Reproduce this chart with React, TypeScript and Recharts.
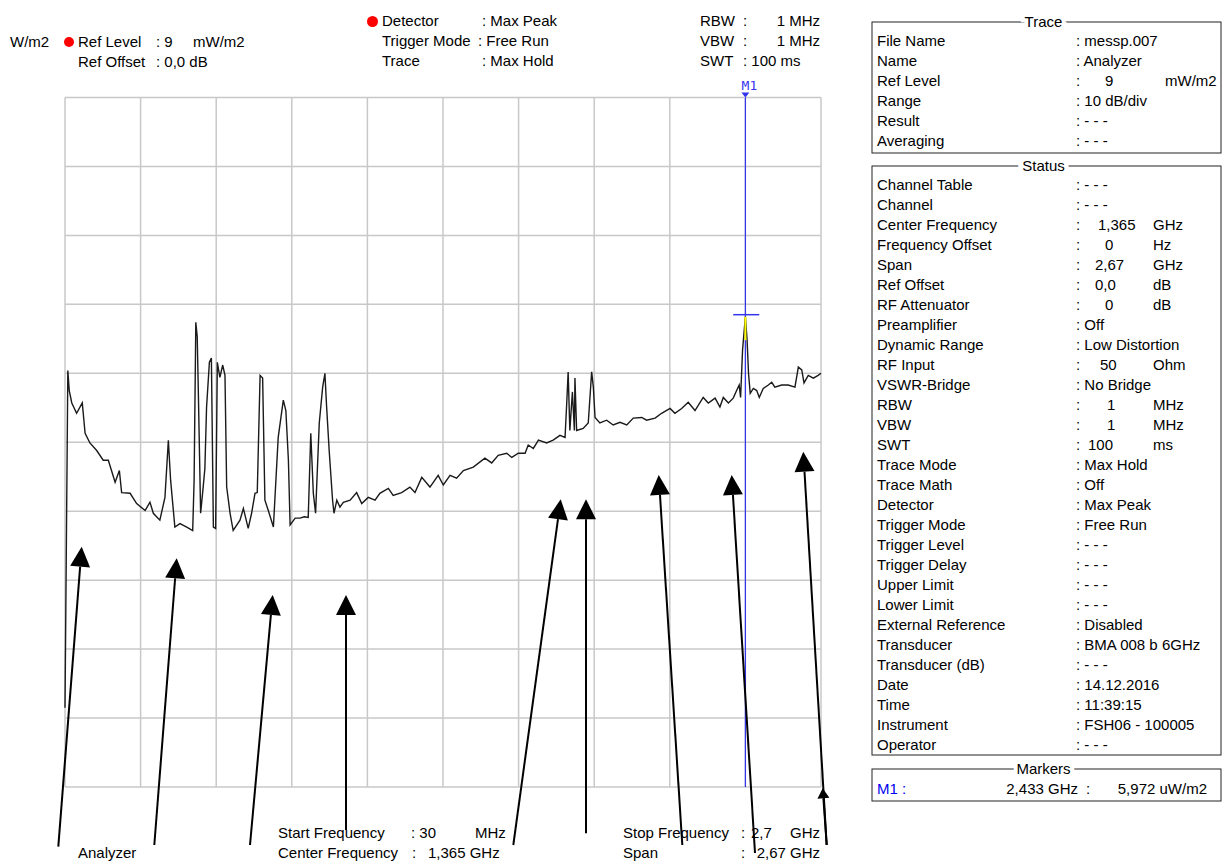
import React from 'react';
import { LineChart, Line, XAxis, YAxis, CartesianGrid, ReferenceLine } from 'recharts';

// trace: frequency in MHz, level in dB below ref level (9 mW/m2, 10 dB/div)
const freqMHz = [
  30, 40, 45, 54, 71, 91, 101, 118, 142, 165,
  183, 207, 222, 230, 260, 283, 313, 330, 342, 365,
  383, 395, 403, 418, 436, 460, 481, 486, 492, 497,
  501, 509, 518, 524, 530, 540, 547, 554, 562, 568,
  577, 587, 595, 601, 613, 624, 648, 660, 677, 689,
  701, 709, 719, 728, 736, 748, 766, 783, 801, 810,
  819, 825, 843, 860, 875, 889, 898, 907, 915, 928,
  940, 948, 954, 963, 975, 980, 990, 1001, 1013, 1037,
  1060, 1078, 1101, 1125, 1142, 1172, 1189, 1219, 1248, 1266,
  1290, 1319, 1348, 1366, 1390, 1413, 1437, 1472, 1513, 1537,
  1560, 1590, 1608, 1631, 1655, 1666, 1684, 1702, 1731, 1754,
  1778, 1796, 1802, 1807, 1813, 1822, 1829, 1831, 1837, 1860,
  1878, 1890, 1896, 1902, 1919, 1943, 1966, 1990, 2014, 2037,
  2067, 2084, 2114, 2137, 2167, 2184, 2208, 2231, 2255, 2284,
  2302, 2326, 2343, 2355, 2373, 2390, 2402, 2411, 2416, 2423,
  2429, 2433, 2439, 2444, 2450, 2461, 2473, 2482, 2496, 2514,
  2526, 2537, 2561, 2584, 2608, 2620, 2632, 2640, 2655, 2673,
  2690, 2700,
];

const levelDb = [
  -88.5, -39.6, -42.5, -44.3, -45.8, -44.3, -48.7, -50.1, -51.2, -52.6,
  -52.6, -55.8, -54.1, -57.3, -57.4, -58.9, -59.9, -58.7, -60.3, -61.3,
  -58.0, -49.7, -55.5, -62.3, -61.8, -62.3, -62.8, -55.5, -32.6, -34.7,
  -42.9, -60.3, -56.5, -53.8, -44.9, -38.4, -37.8, -62.3, -62.5, -38.4,
  -40.6, -38.8, -40.3, -56.5, -60.3, -62.8, -61.3, -59.6, -62.5, -60.3,
  -57.4, -57.3, -40.3, -40.7, -58.4, -59.9, -62.3, -49.3, -43.9, -45.4,
  -52.6, -62.0, -61.0, -61.0, -60.8, -60.9, -48.7, -57.4, -60.3, -47.2,
  -42.0, -40.0, -44.9, -51.2, -58.4, -60.3, -58.4, -59.4, -58.7, -58.4,
  -57.3, -58.9, -58.0, -58.4, -57.4, -56.7, -57.7, -57.3, -56.5, -57.3,
  -55.1, -56.5, -54.8, -56.2, -54.8, -55.2, -54.1, -53.6, -52.3, -53.0,
  -51.9, -51.6, -52.2, -51.6, -51.6, -50.4, -50.9, -49.7, -50.1, -49.7,
  -49.0, -49.3, -44.3, -39.8, -48.3, -42.7, -48.3, -40.7, -48.3, -48.0,
  -47.2, -39.8, -42.0, -46.4, -47.2, -46.8, -47.5, -47.1, -47.5, -46.5,
  -46.4, -46.8, -46.5, -45.8, -45.1, -45.8, -45.1, -44.2, -45.4, -43.5,
  -44.3, -43.6, -44.9, -43.5, -44.3, -43.6, -42.5, -41.7, -43.5, -36.6,
  -33.7, -31.8, -35.2, -40.0, -42.9, -42.2, -42.5, -43.5, -42.2, -41.7,
  -41.3, -42.0, -41.7, -41.7, -42.0, -39.1, -39.5, -41.4, -40.3, -40.7,
  -40.3, -40.0,
];

const freqTicks = [30, 297, 564, 831, 1098, 1365, 1632, 1899, 2166, 2433, 2700];
const levelTicks = [-100, -90, -80, -70, -60, -50, -40, -30, -20, -10, 0];

const markerFreq = 2433;
const markerLevel = -31.8;

const traceLabels = ['File Name', 'Name', 'Ref Level', 'Range', 'Result', 'Averaging'];
const traceValues = ['messp.007', 'Analyzer', '9|mW/m2', '10 dB/div', '- - -', '- - -'];

const statusLabels = [
  'Channel Table', 'Channel', 'Center Frequency', 'Frequency Offset', 'Span', 'Ref Offset',
  'RF Attenuator', 'Preamplifier', 'Dynamic Range', 'RF Input', 'VSWR-Bridge', 'RBW', 'VBW',
  'SWT', 'Trace Mode', 'Trace Math', 'Detector', 'Trigger Mode', 'Trigger Level',
  'Trigger Delay', 'Upper Limit', 'Lower Limit', 'External Reference', 'Transducer',
  'Transducer (dB)', 'Date', 'Time', 'Instrument', 'Operator',
];
const statusValues = [
  '- - -', '- - -', '1,365|GHz', '0|Hz', '2,67|GHz', '0,0|dB',
  '0|dB', 'Off', 'Low Distortion', '50|Ohm', 'No Bridge', '1|MHz', '1|MHz',
  '100|ms', 'Max Hold', 'Off', 'Max Peak', 'Free Run', '- - -',
  '- - -', '- - -', '- - -', 'Disabled', 'BMA 008 b 6GHz',
  '- - -', '14.12.2016', '11:39:15', 'FSH06 - 100005', '- - -',
];

const traceData = freqMHz.map((f, i) => ({ f, level: levelDb[i] }));

const FONT = '"Liberation Sans", Arial, Helvetica, sans-serif';
const BLUE = '#3434ee';

// where the number part of a "num|unit" value starts
const numX: Record<string, number> = {
  '1,365': 1098, '0': 1105, '2,67': 1095, '0,0': 1095, '50': 1100, '1': 1107, '100': 1088, '9': 1105,
};

function T({ x, y, children, anchor, fill }: any) {
  return (
    <text
      x={x}
      y={y + 5}
      fontSize={15}
      fontFamily={FONT}
      fill={fill || '#000'}
      textAnchor={anchor || 'start'}
      style={{ whiteSpace: 'pre' }}
    >
      {children}
    </text>
  );
}

function Box({ x, y, w, h, title }: any) {
  return (
    <g>
      <rect x={x} y={y} width={w} height={h} fill="none" stroke="#222" strokeWidth={1} />
      <text
        x={x + w / 2 - 3}
        y={y + 5}
        fontSize={15}
        fontFamily={FONT}
        textAnchor="middle"
        stroke="#fff"
        strokeWidth={8}
        paintOrder="stroke"
        fill="#000"
      >
        {title}
      </text>
    </g>
  );
}

function InfoRows({ labels, values, y0 }: any) {
  return (
    <g>
      {labels.map((label: string, i: number) => {
        const y = y0 + i * 20;
        const v: string = values[i];
        if (v.includes('|')) {
          const [num, unit] = v.split('|');
          return (
            <g key={label}>
              <T x={877} y={y}>{label}</T>
              <T x={1076} y={y}>:</T>
              <T x={numX[num]} y={y}>{num}</T>
              <T x={label === 'Ref Level' ? 1165 : 1153} y={y}>{unit}</T>
            </g>
          );
        }
        return (
          <g key={label}>
            <T x={877} y={y}>{label}</T>
            <T x={1076} y={y}>{': ' + v}</T>
          </g>
        );
      })}
    </g>
  );
}

// annotation arrows: [tailX, tailY, tipX, tipY, headWidth, headLength]
const arrows = [
  [58.3, 846.7, 81.7, 546.7, 20, 20],
  [154.3, 845, 176.7, 558.3, 20, 20],
  [250, 845, 272.7, 595, 20, 20],
  [346, 830, 346, 595, 20, 20],
  [513.3, 845, 560.7, 499.3, 20, 20],
  [586, 833.3, 586, 499.3, 20, 20],
  [682.3, 845, 658.7, 475, 20, 20],
  [755, 853, 731.7, 475, 20, 20],
  [826.7, 845, 803.3, 451.7, 20, 20],
  [826.7, 845, 822.7, 788.3, 12, 10],
];

function Arrow({ a }: any) {
  const [x1, y1, x2, y2, hw, hl] = a;
  const len = Math.hypot(x2 - x1, y2 - y1);
  const ux = (x2 - x1) / len;
  const uy = (y2 - y1) / len;
  const bx = x2 - ux * hl;
  const by = y2 - uy * hl;
  const px = -uy * (hw / 2);
  const py = ux * (hw / 2);
  return (
    <g>
      <line x1={x1} y1={y1} x2={bx} y2={by} stroke="#000" strokeWidth={2} />
      <polygon points={`${x2},${y2} ${bx + px},${by + py} ${bx - px},${by - py}`} fill="#000" />
    </g>
  );
}

const MarkerLabel = (props: any) => {
  const { viewBox } = props;
  if (!viewBox) return null;
  const x = viewBox.x;
  const y = viewBox.y;
  return (
    <g>
      <text x={x + 4} y={y - 8} fontSize={13} fontFamily='"DejaVu Sans Mono", monospace' fill={BLUE} textAnchor="middle">
        M1
      </text>
      <polygon points={`${x - 4},${y - 5} ${x + 4},${y - 5} ${x},${y}`} fill={BLUE} />
    </g>
  );
};

export default function App() {
  return (
    <div style={{ position: 'absolute', left: 0, top: 0, width: 1223, height: 862, background: '#fff' }}>
      <div style={{ position: 'absolute', left: 0, top: 0 }}>
        <LineChart
          width={830}
          height={800}
          data={traceData}
          margin={{ top: 97.5, right: 9, bottom: 13, left: 65 }}
        >
          <CartesianGrid stroke="#c8c8c8" strokeWidth={1.5} />
          <XAxis type="number" dataKey="f" domain={[30, 2700]} ticks={freqTicks} hide />
          <YAxis type="number" domain={[-100, 0]} ticks={levelTicks} hide />
          <ReferenceLine x={markerFreq} stroke={BLUE} strokeWidth={1.2} label={<MarkerLabel />} />
          <Line
            dataKey="level"
            type="linear"
            stroke="#1a1a1a"
            strokeWidth={1.4}
            dot={false}
            isAnimationActive={false}
          />
          <ReferenceLine
            segment={[{ x: 2390, y: markerLevel + 0.3 }, { x: 2482, y: markerLevel + 0.3 }]}
            stroke={BLUE}
            strokeWidth={1.5}
          />
          <ReferenceLine
            segment={[{ x: markerFreq, y: markerLevel }, { x: markerFreq, y: -35.2 }]}
            stroke="#ffff00"
            strokeWidth={2}
          />
        </LineChart>
      </div>
      <svg
        width={1223}
        height={862}
        style={{ position: 'absolute', left: 0, top: 0, pointerEvents: 'none' }}
      >
        {/* header, left */}
        <T x={10} y={42}>W/m2</T>
        <circle cx={69} cy={42} r={5} fill="#f00" />
        <T x={78} y={42}>Ref Level</T>
        <T x={156} y={42}>: 9</T>
        <T x={193} y={42}>mW/m2</T>
        <T x={78} y={62}>Ref Offset</T>
        <T x={156} y={62}>: 0,0 dB</T>

        {/* header, middle */}
        <circle cx={372.5} cy={21.5} r={5.5} fill="#f00" />
        <T x={382} y={21}>Detector</T>
        <T x={482} y={21}>: Max Peak</T>
        <T x={382} y={41}>Trigger Mode</T>
        <T x={478} y={41}>: Free Run</T>
        <T x={382} y={61}>Trace</T>
        <T x={482} y={61}>: Max Hold</T>

        {/* header, right */}
        <T x={700} y={21}>RBW</T>
        <T x={743} y={21}>:</T>
        <T x={820} y={21} anchor="end">1 MHz</T>
        <T x={700} y={41}>VBW</T>
        <T x={743} y={41}>:</T>
        <T x={820} y={41} anchor="end">1 MHz</T>
        <T x={700} y={61}>SWT</T>
        <T x={743} y={61}>: 100 ms</T>

        {/* footer */}
        <T x={78} y={853}>Analyzer</T>
        <T x={278} y={833}>Start Frequency</T>
        <T x={411} y={833}>: 30</T>
        <T x={475} y={833}>MHz</T>
        <T x={278} y={853}>Center Frequency</T>
        <T x={412} y={853}>:</T>
        <T x={428} y={853}>1,365 GHz</T>
        <T x={623} y={833}>Stop Frequency</T>
        <T x={741} y={833}>:</T>
        <T x={751} y={833}>2,7</T>
        <T x={820} y={833} anchor="end">GHz</T>
        <T x={623} y={853}>Span</T>
        <T x={741} y={853}>:</T>
        <T x={820} y={853} anchor="end">2,67 GHz</T>

        {/* side panel */}
        <Box x={872} y={22} w={349} h={131} title="Trace" />
        <InfoRows labels={traceLabels} values={traceValues} y0={41} />
        <Box x={872} y={166} w={349} h={589} title="Status" />
        <InfoRows labels={statusLabels} values={statusValues} y0={185} />
        <Box x={872} y={769} w={349} h={32} title="Markers" />
        <T x={877} y={789} fill="#0000ee">M1 :</T>
        <T x={1078} y={789} anchor="end">2,433 GHz</T>
        <T x={1086} y={789}>:</T>
        <T x={1207} y={789} anchor="end">5,972 uW/m2</T>

        {arrows.map((a, i) => (
          <Arrow key={i} a={a} />
        ))}
      </svg>
    </div>
  );
}
